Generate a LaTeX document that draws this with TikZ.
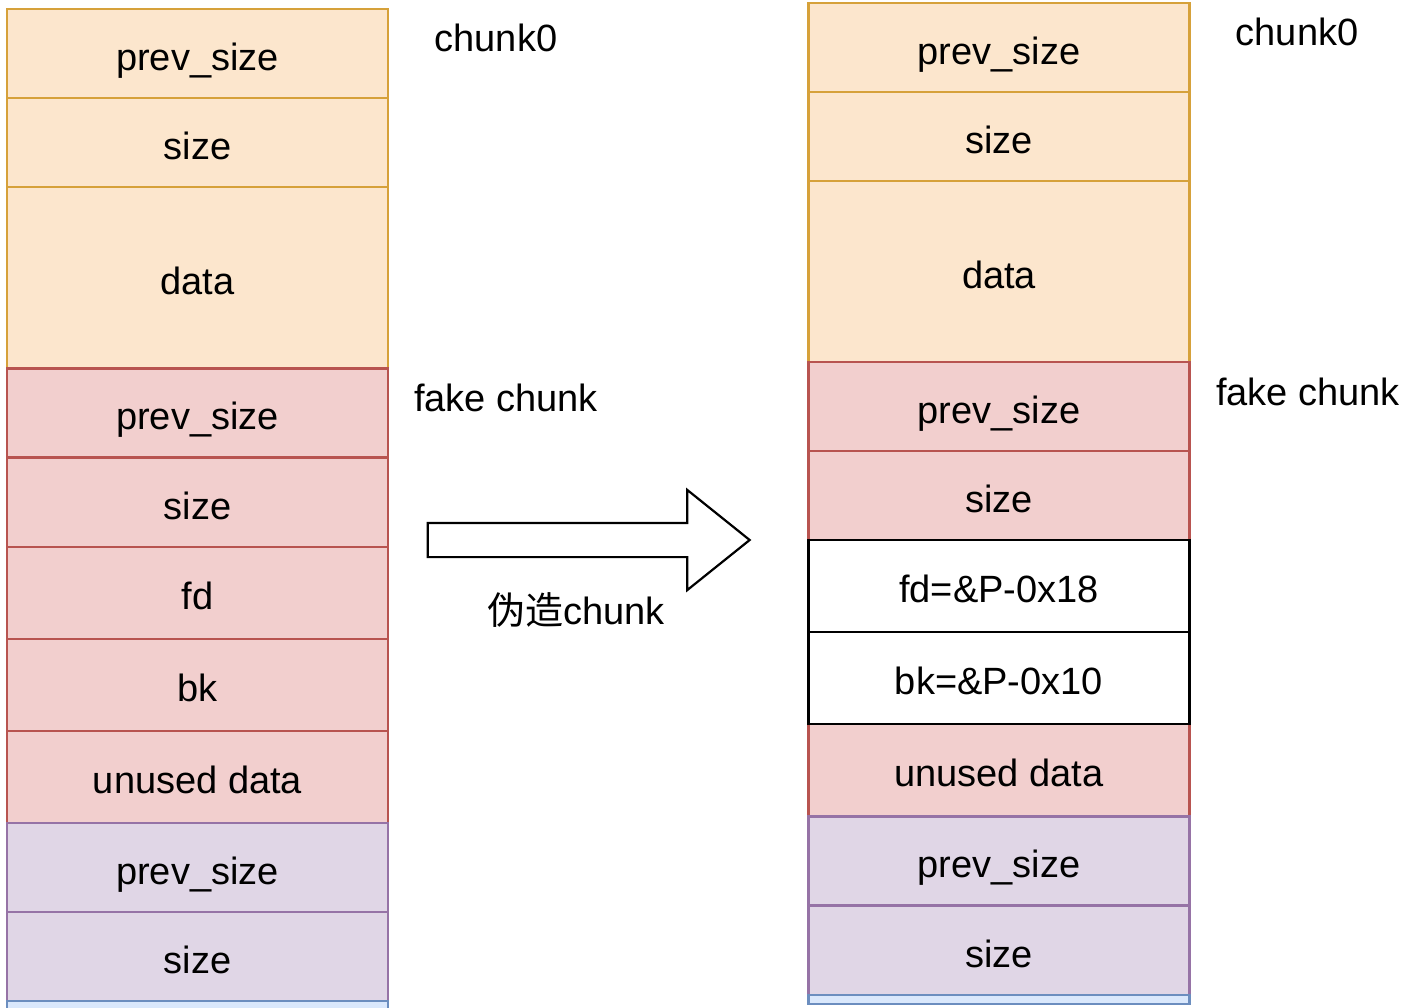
\documentclass[tikz,border=0pt]{standalone}
\usepackage{fontspec}
\setmainfont{Liberation Sans}
\newfontfamily\cjk{Noto Sans CJK SC}
\usetikzlibrary{shapes.arrows}

\definecolor{hdrfill}{HTML}{FCE6CD}
\definecolor{hdrline}{HTML}{D6A13A}
\definecolor{fakefill}{HTML}{F2CFCE}
\definecolor{fakeline}{HTML}{B85450}
\definecolor{nextfill}{HTML}{E0D6E6}
\definecolor{nextline}{HTML}{9673A6}
\definecolor{topfill}{HTML}{DAE8FC}
\definecolor{topline}{HTML}{6C8EBF}

\begin{document}
\begin{tikzpicture}[
  x=0.5pt, y=-0.5pt,
  cell/.style={
    draw, line width=1.3pt, rectangle,
    minimum width=190.5pt, minimum height=44.5pt,
    inner sep=0pt, outer sep=0pt,
    text height=16.5pt, text depth=0pt,
    font=\fontsize{19}{22}\selectfont
  },
  tall/.style={minimum height=90.5pt},
  mid/.style={minimum height=46pt},
  hdr/.style={cell, fill=hdrfill, draw=hdrline},
  fake/.style={cell, fill=fakefill, draw=fakeline},
  next/.style={cell, fill=nextfill, draw=nextline},
  top/.style={cell, fill=topfill, draw=topline},
  forged/.style={cell, fill=white, draw=black},
  tag/.style={font=\fontsize{19}{22}\selectfont},
]
\useasboundingbox (0,0) rectangle (1419,1007);
\clip (0,0) rectangle (1419,1007);

% before: chunk0, fake chunk inside its data, next chunk
\node[hdr]       (l0) at (197.5,  53.5) {prev\_size};
\node[hdr]       (l1) at (197.5, 142.5) {size};
\node[hdr, tall] (l2) at (197.5, 277.5) {data};
\node[fake]      (l3) at (197.5, 413)   {prev\_size};
\node[fake]      (l4) at (197.5, 502.5) {size};
\node[fake, mid] (l5) at (197.5, 593)   {fd};
\node[fake, mid] (l6) at (197.5, 685)   {bk};
\node[fake, mid] (l7) at (197.5, 777)   {unused data};
\node[next]      (l8) at (197.5, 867.5) {prev\_size};
\node[next]      (l9) at (197.5, 956.5) {size};
\node[top]       (lt) at (197.5, 1045.5) {};

\node[tag] (lchunk) at (496, 38)  {chunk0};
\node[tag] (lfake)  at (506, 398) {fake chunk};

% after: fd/bk rewritten
\node[hdr]       (r0) at (999,  47.5) {prev\_size};
\node[hdr]       (r1) at (999, 136.5) {size};
\node[hdr, tall] (r2) at (999, 271.5) {data};
\node[fake]      (r3) at (999, 406.5) {prev\_size};
\node[fake]      (r4) at (999, 495.5) {size};
\node[fake, mid] (r7) at (999, 770)   {unused data};
\node[next]      (r8) at (999, 861)   {prev\_size};
\node[next]      (r9) at (999, 950.5) {size};
\node[top, minimum height=4.5pt, text height=0pt] (rt) at (999, 999.5) {};
\node[forged, mid] (r5) at (999, 586) {fd=\&P-0x18};
\node[forged, mid] (r6) at (999, 678) {bk=\&P-0x10};

\node[tag] (rchunk) at (1297, 32)  {chunk0};
\node[tag] (rfake)  at (1308, 392) {fake chunk};

% transition
\node[single arrow, draw, line width=1.1pt, fill=white,
      minimum height=161pt, minimum width=49pt,
      single arrow head extend=16.5pt, single arrow tip angle=77.5,
      text height=0pt, text depth=0pt, inner xsep=0pt, inner ysep=8pt,
      outer sep=0pt] (fwd) at (578, 540) {};
\node[tag] (fwdlbl) at (576, 610) {{\cjk 伪造}chunk};

\end{tikzpicture}
\end{document}
